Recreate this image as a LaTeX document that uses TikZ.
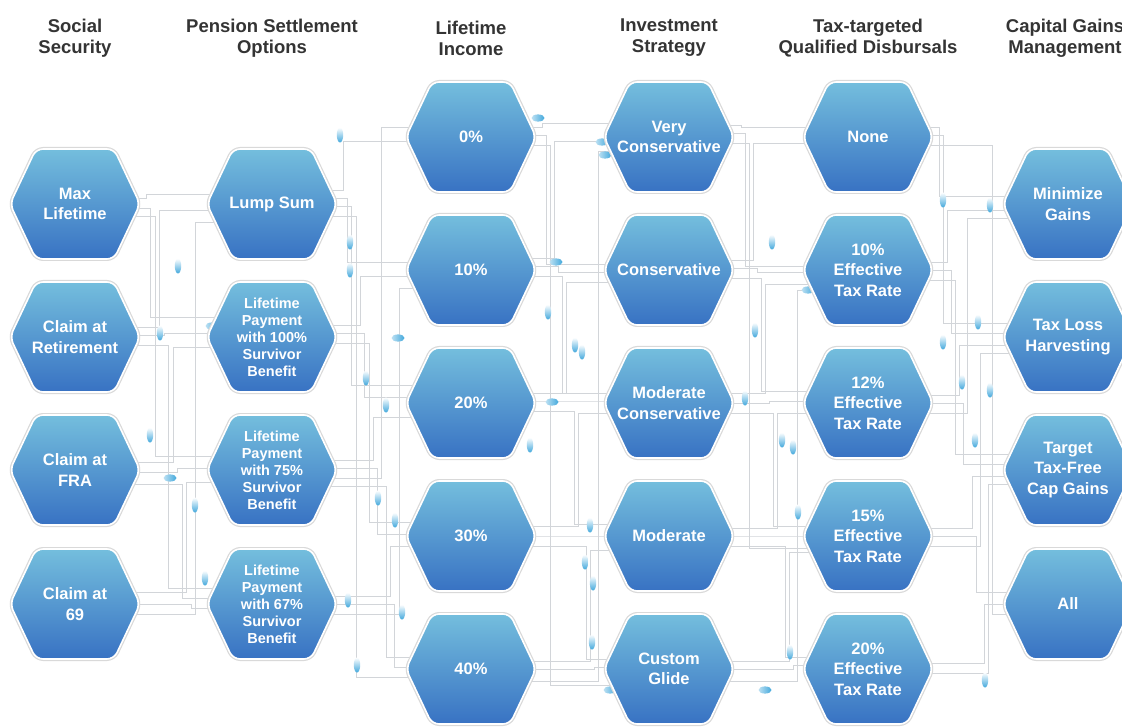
\documentclass[tikz,border=0pt]{standalone}
\usepackage{fontspec}
\setmainfont{Liberation Sans}
\usetikzlibrary{shapes.geometric,backgrounds}

\definecolor{hextop}{RGB}{116,190,221}
\definecolor{hexbot}{RGB}{56,114,195}
\definecolor{wirecol}{RGB}{210,213,217}
\definecolor{dropcol}{RGB}{66,168,220}
\definecolor{headcol}{RGB}{52,52,52}

\tikzset{
  hexhold/.style={rectangle, minimum width=130pt, minimum height=110pt,
    inner sep=0pt},
  hexface/.style={rounded corners=7pt, top color=hextop, bottom color=hexbot,
    draw=white, line width=1.6pt, preaction={draw=black!15, line width=4pt}},
  hextext/.style={text=white, font=\bfseries\fontsize{16.5}{20.5}\selectfont,
    align=center, inner sep=0pt},
  smalltext/.style={hextext, font=\bfseries\fontsize{14.5}{17}\selectfont},
  headtext/.style={text=headcol, font=\bfseries\fontsize{18.5}{21}\selectfont,
    align=center, inner sep=0pt},
  wire/.style={draw=wirecol, line width=0.6pt},
}

% a hexagon tile: #1 name, #2 x, #3 y, #4 text style, #5 text
\newcommand\hexnode[5]{%
  \node[hexhold] (#1) at (#2,#3) {};
  \path[hexface] ([xshift=-65pt]#1.center) -- ++(26,-55) -- ++(78,0)
    -- ++(26,55) -- ++(-26,55) -- ++(-78,0) -- cycle;
  \node[#4] at (#1.center) {#5};}

% one bundle of orthogonal wires between two columns:
% #1 = x of first vertical channel, #2 = channel spacing,
% #3 = list source/target/start offset/end offset
\newcommand\wiregap[3]{%
  \foreach \s/\t/\a/\b [count=\k] in {#3}{%
    \pgfmathsetmacro\cx{#1+(\k-1)*#2}
    \draw[wire] ([yshift=\a pt]\s.center) -| ([yshift=\b pt]\t.center -| \cx,0)
      -- ([yshift=\b pt]\t.center);
  }}
\newcommand\vdrop[2]{\shade[top color=dropcol!0, bottom color=dropcol] (#1,#2) ellipse (3.2 and 7.5);}
\newcommand\hdrop[2]{\shade[left color=dropcol!35, right color=dropcol] (#1,#2) ellipse (6.5 and 3.6);}

\begin{document}
\begin{tikzpicture}[x=1pt,y=-1pt]
\useasboundingbox (0,0) rectangle (1122,727);
\clip (0,0) rectangle (1122,727);

% column headings
\node[headtext] (h1) at (75,38)   {Social\\Security};
\node[headtext] (h2) at (272,38)  {Pension Settlement\\Options};
\node[headtext] (h3) at (471,38)  {Lifetime\\Income};
\node[headtext] (h4) at (669,38)  {Investment\\Strategy};
\node[headtext] (h5) at (868,38)  {Tax-targeted\\Qualified Disbursals};
\node[headtext] (h6) at (1065,38) {Capital Gains\\Management};

% Social Security
\hexnode{ss1}{75}{204}{hextext}{Max\\Lifetime}
\hexnode{ss2}{75}{337}{hextext}{Claim at\\Retirement}
\hexnode{ss3}{75}{470}{hextext}{Claim at\\FRA}
\hexnode{ss4}{75}{604}{hextext}{Claim at\\69}

% Pension settlement options
\hexnode{ps1}{272}{204}{hextext}{Lump Sum}
\hexnode{ps2}{272}{337}{smalltext}{Lifetime\\Payment\\with 100\%\\Survivor\\Benefit}
\hexnode{ps3}{272}{470}{smalltext}{Lifetime\\Payment\\with 75\%\\Survivor\\Benefit}
\hexnode{ps4}{272}{604}{smalltext}{Lifetime\\Payment\\with 67\%\\Survivor\\Benefit}

% Lifetime income
\hexnode{li1}{471}{137}{hextext}{0\%}
\hexnode{li2}{471}{270}{hextext}{10\%}
\hexnode{li3}{471}{403}{hextext}{20\%}
\hexnode{li4}{471}{536}{hextext}{30\%}
\hexnode{li5}{471}{669}{hextext}{40\%}

% Investment strategy
\hexnode{is1}{669}{137}{hextext}{Very\\Conservative}
\hexnode{is2}{669}{270}{hextext}{Conservative}
\hexnode{is3}{669}{403}{hextext}{Moderate\\Conservative}
\hexnode{is4}{669}{536}{hextext}{Moderate}
\hexnode{is5}{669}{669}{hextext}{Custom\\Glide}

% Tax-targeted qualified disbursals
\hexnode{tx1}{868}{137}{hextext}{None}
\hexnode{tx2}{868}{270}{hextext}{10\%\\Effective\\Tax Rate}
\hexnode{tx3}{868}{403}{hextext}{12\%\\Effective\\Tax Rate}
\hexnode{tx4}{868}{536}{hextext}{15\%\\Effective\\Tax Rate}
\hexnode{tx5}{868}{669}{hextext}{20\%\\Effective\\Tax Rate}

% Capital gains management
\hexnode{cg1}{1068}{204}{hextext}{Minimize\\Gains}
\hexnode{cg2}{1068}{337}{hextext}{Tax Loss\\Harvesting}
\hexnode{cg3}{1068}{470}{hextext}{Target\\Tax-Free\\Cap Gains}
\hexnode{cg4}{1068}{604}{hextext}{All}

\begin{scope}[on background layer]
  \fill[white] (0,0) rectangle (1122,727);

  \wiregap{146}{4.5}{ss1/ps1/6/10, ss1/ps2/-4/20, ss1/ps3/-12/14, ss2/ps1/10/-6,
    ss2/ps2/2/4, ss2/ps4/-8/16, ss3/ps2/8/-10, ss3/ps3/-2/2, ss3/ps4/-14/6,
    ss4/ps3/12/-12, ss4/ps4/0/-4, ss4/ps1/-10/-18}
  \wiregap{343}{4.3}{ps1/li1/14/-4, ps1/li2/6/8, ps1/li3/-2/18, ps1/li5/-12/-8,
    ps2/li2/12/-6, ps2/li3/4/6, ps2/li4/-6/14, ps3/li3/10/-14, ps3/li4/2/2,
    ps3/li1/-8/10, ps3/li5/-16/12, ps4/li4/8/-10, ps4/li5/0/2, ps4/li2/-10/-18}
  \wiregap{542}{4}{li1/is1/10/14, li1/is2/2/6, li1/is5/-8/-16, li2/is1/12/-4,
    li2/is2/4/-2, li2/is3/-6/10, li3/is2/10/-12, li3/is3/2/2, li3/is4/-8/12,
    li4/is3/10/-10, li4/is4/0/0, li4/is5/-10/10, li5/is4/8/-14, li5/is5/0/2,
    li5/is1/-12/-14}
  \wiregap{741}{4}{is1/tx1/12/10, is1/tx2/4/4, is1/tx4/-6/-12, is2/tx1/10/-6,
    is2/tx2/2/-2, is2/tx3/-8/12, is3/tx2/10/-14, is3/tx3/0/2, is3/tx4/-10/10,
    is4/tx3/8/-10, is4/tx4/0/0, is4/tx5/-10/12, is5/tx4/8/-16, is5/tx5/0/4,
    is5/tx2/-12/-20}
  \wiregap{939}{4.1}{tx1/cg1/10/8, tx1/cg2/2/14, tx2/cg1/8/-6, tx2/cg2/0/4,
    tx2/cg3/-10/16, tx3/cg2/8/-8, tx3/cg3/0/6, tx3/cg1/-10/-14, tx4/cg3/8/-6,
    tx4/cg4/0/12, tx4/cg2/-10/-16, tx5/cg4/6/0, tx5/cg3/-4/-14, tx1/cg4/-8/-10}

  % light droplets along the wires
  \foreach \x/\y in {340/135, 350/242, 350/270, 178/266, 160/333, 150/435,
      195/505, 205/578, 348/600, 357/665, 402/612, 366/378, 378/498, 386/405,
      548/312, 575/345, 582/352, 590/525, 585/562, 593/583, 592/642, 772/242,
      755/330, 745/398, 782/440, 793/447, 798/512, 790/652, 943/200, 943/342,
      962/382, 990/205, 978/322, 990/390, 975/440, 985/680, 530/445, 395/520}
    {\vdrop{\x}{\y}}
  \foreach \x/\y in {538/118, 556/262, 552/402, 398/338, 170/478, 602/142,
      605/155, 808/290, 765/690, 212/326, 610/690}
    {\hdrop{\x}{\y}}
\end{scope}
\end{tikzpicture}
\end{document}
